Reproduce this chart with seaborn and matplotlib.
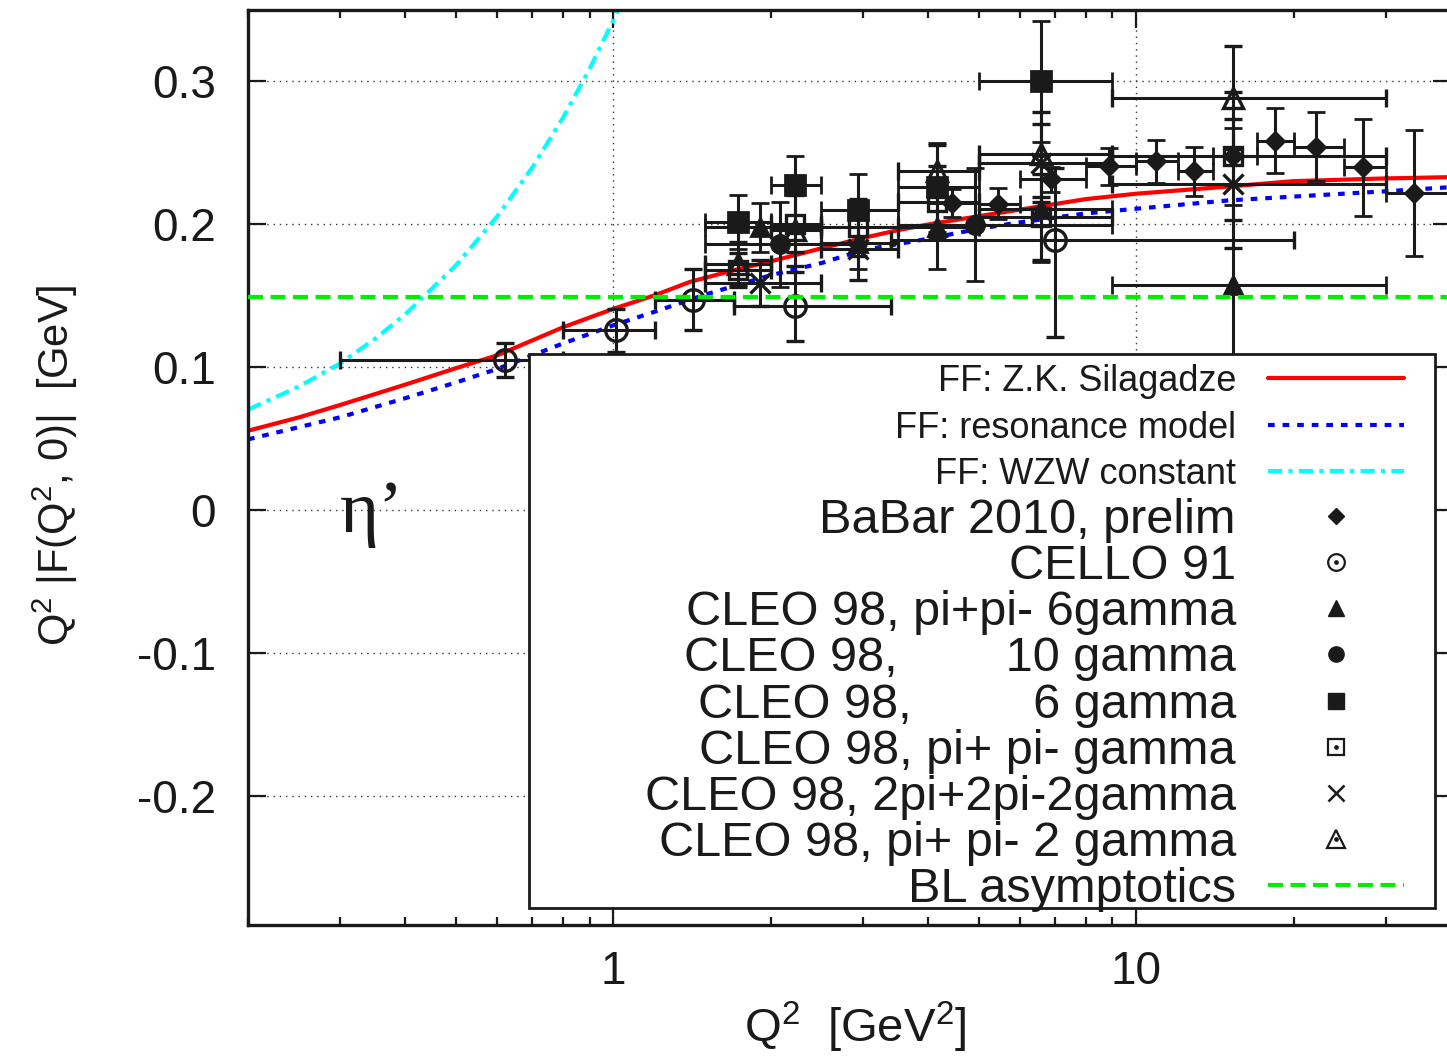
import numpy as np
import pandas as pd
import matplotlib
matplotlib.use("Agg")
import matplotlib.pyplot as plt
import seaborn as sns
from matplotlib.lines import Line2D
from matplotlib.patches import Rectangle
from matplotlib import ticker

# ---------------- curves ----------------
silag_x = [0.2, 0.25, 0.3, 0.4, 0.5, 0.6, 0.8, 1.0, 1.2, 1.4, 1.7, 2.0, 2.5, 3.0, 3.5, 4.0,
           5.0, 6.0, 8.0, 10, 15, 20, 30, 40]
silag_y = [0.0557, 0.065, 0.0737, 0.088, 0.0995, 0.1085, 0.128, 0.141, 0.1505, 0.1598, 0.168,
           0.1742, 0.1833, 0.1905, 0.196, 0.200, 0.2058, 0.2104, 0.2177, 0.2215, 0.2265, 0.2303,
           0.2322, 0.2331]

reson_x = [0.2, 0.3, 0.4, 0.5, 0.6, 0.8, 1.0, 1.2, 1.5, 2.0, 2.5, 3.0, 4.0, 5.0, 6.0, 8.0,
           10, 15, 20, 30, 40]
reson_y = [0.0497, 0.0651, 0.0785, 0.0895, 0.099, 0.1167, 0.1295, 0.139, 0.151, 0.1645, 0.173,
           0.182, 0.190, 0.197, 0.2015, 0.2077, 0.211, 0.2168, 0.2195, 0.2232, 0.2261]

wzw_x = [0.2, 0.25, 0.3, 0.35, 0.4, 0.5, 0.6, 0.7, 0.8, 0.9, 1.0, 1.05]
wzw_y = [0.0705, 0.0865, 0.1028, 0.12, 0.1372, 0.1715, 0.2058, 0.24, 0.2744, 0.3087, 0.343, 0.36]

bl_x = [0.2, 40]
bl_y = [0.149, 0.149]

# ---------------- data sets ----------------
# BaBar 2010, prelim (filled diamonds)
babar_x = [4.45, 5.44, 6.86, 8.87, 10.9, 12.9, 15.3, 18.4, 22.1, 27.2, 34.0]
babar_y = [0.215, 0.2145, 0.2315, 0.2408, 0.2443, 0.2371, 0.2478, 0.2587, 0.2545, 0.2401, 0.2219]
babar_err = [0.010, 0.011, 0.009, 0.013, 0.015, 0.017, 0.020, 0.023, 0.024, 0.034, 0.044]
babar_xlo = [4, 5, 6, 8, 10, 12, 14, 17, 20, 25, 30]
babar_xhi = [5, 6, 8, 10, 12, 14, 17, 20, 25, 30, 40]

# CELLO 91 (open circles)
cello_x = [0.62, 1.01, 1.42, 2.22, 6.99]
cello_y = [0.105, 0.126, 0.1475, 0.1428, 0.1894]
cello_elo = [0.012, 0.015, 0.021, 0.024, 0.068]
cello_ehi = [0.012, 0.015, 0.021, 0.024, 0.050]
cello_xlo = [0.3, 0.8, 1.2, 1.7, 3.4]
cello_xhi = [0.8, 1.2, 1.7, 3.4, 20]

# CLEO 98, pi+pi- 6gamma (filled triangles)
c6pi_x = [1.91, 2.93, 4.15, 6.56, 15.3]
c6pi_y = [0.198, 0.187, 0.198, 0.211, 0.1575]
c6pi_err = [0.017, 0.018, 0.029, 0.037, 0.056]
c6pi_xlo = [1.5, 2.5, 3.5, 5, 9]
c6pi_xhi = [2.5, 3.5, 5, 9, 30]

# CLEO 98, 10 gamma (filled circles)
c10_x = [2.08, 4.91]
c10_y = [0.186, 0.1998]
c10_err = [0.0295, 0.0395]
c10_xlo = [1.5, 3.5]
c10_xhi = [3.0, 9.0]

# CLEO 98, 6 gamma (filled squares)
c6g_x = [1.73, 2.22, 2.93, 4.15, 6.56]
c6g_y = [0.2017, 0.2273, 0.2103, 0.226, 0.300]
c6g_err = [0.019, 0.0205, 0.025, 0.031, 0.042]
c6g_xlo = [1.5, 2.0, 2.5, 3.5, 5.0]
c6g_xhi = [2.0, 2.5, 3.5, 5.0, 9.0]

# CLEO 98, pi+ pi- gamma (open squares)
cppg_x = [1.73, 2.22, 2.93, 4.15, 6.56, 15.3]
cppg_y = [0.168, 0.2006, 0.198, 0.2157, 0.205, 0.2478]
cppg_err = [0.012, 0.020, 0.020, 0.025, 0.030, 0.045]
cppg_xlo = [1.5, 2.0, 2.5, 3.5, 5, 9]
cppg_xhi = [2.0, 2.5, 3.5, 5, 9, 30]

# CLEO 98, 2pi+2pi-2gamma (crosses)
c4pi_x = [1.91, 2.93, 6.56, 15.3]
c4pi_y = [0.159, 0.183, 0.243, 0.2285]
c4pi_err = [0.016, 0.022, 0.027, 0.045]
c4pi_xlo = [1.5, 2.5, 5, 9]
c4pi_xhi = [2.5, 3.5, 9, 30]

# CLEO 98, pi+ pi- 2 gamma (open triangles)
cpp2g_x = [1.73, 2.22, 4.15, 6.56, 15.3]
cpp2g_y = [0.1726, 0.196, 0.2375, 0.249, 0.2885]
cpp2g_err = [0.015, 0.025, 0.018, 0.030, 0.036]
cpp2g_xlo = [1.5, 2.0, 3.5, 5, 9]
cpp2g_xhi = [2.0, 2.5, 5, 9, 30]

curve_labels = [
    "FF: Z.K. Silagadze",
    "FF: resonance model",
    "FF: WZW constant",
]
data_labels = [
    "BaBar 2010, prelim",
    "CELLO 91",
    "CLEO 98, pi+pi- 6gamma",
    "CLEO 98,        10 gamma",
    "CLEO 98,         6 gamma",
    "CLEO 98, pi+ pi- gamma",
    "CLEO 98, 2pi+2pi-2gamma",
    "CLEO 98, pi+ pi- 2 gamma",
    "BL asymptotics",
]
yticks = [-0.2, -0.1, 0.0, 0.1, 0.2, 0.3]
ytick_labels = ["-0.2", "-0.1", "0", "0.1", "0.2", "0.3"]
xticks = [1, 10]
xtick_labels = ["1", "10"]

# ---------------- style ----------------
sns.set_theme(style="ticks")
FONT = "Liberation Sans"
plt.rcParams["font.family"] = [FONT, "DejaVu Sans"]
plt.rcParams["mathtext.fontset"] = "custom"
plt.rcParams["mathtext.rm"] = FONT
plt.rcParams["mathtext.it"] = FONT + ":italic"
plt.rcParams["mathtext.bf"] = FONT + ":bold"
plt.rcParams["axes.unicode_minus"] = False

W, H = 1447, 1057
fig = plt.figure(figsize=(W / 100, H / 100), dpi=100)
L, R, T, B = 248, 1451, 10, 925
ax = fig.add_axes([L / W, 1 - B / H, (R - L) / W, (B - T) / H])
ax.set_xscale("log")
ax.set_xlim(0.2, 40)
ax.set_ylim(-0.29, 0.35)

# grid
ax.set_axisbelow(True)
ax.grid(True, which="major", color="0.2", lw=1.0, ls=(0, (1, 3.5)))

# curves
LW = 3.0
DOT = (0, (1.6, 1.9))
DASHDOT = (0, (3.4, 1.5, 1.0, 1.5))
DASH = (0, (3.6, 1.8))
sns.lineplot(x=silag_x, y=silag_y, ax=ax, color="#ff0000", lw=LW, zorder=2)
sns.lineplot(x=reson_x, y=reson_y, ax=ax, color="#0000ff", lw=LW, zorder=2, linestyle=DOT)
sns.lineplot(x=wzw_x, y=wzw_y, ax=ax, color="#00ffff", lw=LW, zorder=2, linestyle=DASHDOT)

# data sets
def eb(x, y, elo, ehi, xlo, xhi, marker, ms, filled=True, mew=2.0):
    x = np.asarray(x, float)
    y = np.asarray(y, float)
    xerr = [x - np.asarray(xlo, float), np.asarray(xhi, float) - x]
    ax.errorbar(x, y, yerr=[elo, ehi], xerr=xerr, fmt=marker, ms=ms,
                mfc="k" if filled else "none", mec="k", mew=mew,
                ecolor="k", elinewidth=2.2, capsize=6.5, capthick=2.2, zorder=3)

eb(babar_x, babar_y, babar_err, babar_err, babar_xlo, babar_xhi, "D", 9.5)
eb(cello_x, cello_y, cello_elo, cello_ehi, cello_xlo, cello_xhi, "o", 15.5, filled=False, mew=2.4)
eb(c6pi_x, c6pi_y, c6pi_err, c6pi_err, c6pi_xlo, c6pi_xhi, "^", 13)
eb(c10_x, c10_y, c10_err, c10_err, c10_xlo, c10_xhi, "o", 13)
eb(c6g_x, c6g_y, c6g_err, c6g_err, c6g_xlo, c6g_xhi, "s", 14)
eb(cppg_x, cppg_y, cppg_err, cppg_err, cppg_xlo, cppg_xhi, "s", 13.5, filled=False, mew=2.4)
eb(c4pi_x, c4pi_y, c4pi_err, c4pi_err, c4pi_xlo, c4pi_xhi, "x", 14, mew=2.4)
eb(cpp2g_x, cpp2g_y, cpp2g_err, cpp2g_err, cpp2g_xlo, cpp2g_xhi, "^", 14, filled=False, mew=2.4)

sns.lineplot(x=bl_x, y=bl_y, ax=ax, color="#00ee00", lw=LW, zorder=3.5, linestyle=DASH)

# axes styling
for s in ax.spines.values():
    s.set_linewidth(2.4)
    s.set_color("k")
ax.xaxis.set_major_locator(ticker.FixedLocator(xticks))
ax.xaxis.set_major_formatter(ticker.FixedFormatter(xtick_labels))
ax.xaxis.set_minor_locator(ticker.LogLocator(base=10, subs=np.arange(2, 10), numticks=20))
ax.xaxis.set_minor_formatter(ticker.NullFormatter())
ax.yaxis.set_major_locator(ticker.FixedLocator(yticks))
ax.yaxis.set_major_formatter(ticker.FixedFormatter(ytick_labels))
ax.tick_params(which="both", direction="in", top=True, right=True, width=1.6, colors="k")
ax.tick_params(which="major", length=13, labelsize=33)
ax.tick_params(which="minor", length=6)
ax.tick_params(axis="x", which="major", pad=18)
ax.tick_params(axis="y", which="major", pad=23)

ax.set_xlabel(r"Q$\mathregular{^2}$  [GeV$\mathregular{^2}$]", fontsize=34, color="k")
ax.set_ylabel(r"Q$\mathregular{^2}$ |F(Q$\mathregular{^2}$, 0)|  [GeV]", fontsize=30, color="k")
ax.xaxis.set_label_coords(0.5046, -0.082)
ax.yaxis.set_label_coords(-0.14, 0.503)

ax.text(0.0765, 0.43, "\u03b7\u2019", transform=ax.transAxes, fontsize=54,
        family=["Liberation Serif", "DejaVu Serif"], ha="left", va="baseline", color="k")

# legend frame
ax.add_patch(Rectangle((0.2336, 0.0186), 0.9867 - 0.2336, 0.624 - 0.0186,
                       transform=ax.transAxes, facecolor="white", edgecolor="k",
                       lw=2.0, zorder=4.5))

def dot_handle(marker, ms):
    return (Line2D([], [], ls="none", marker=marker, ms=ms, mfc="none", mec="k", mew=1.6),
            Line2D([], [], ls="none", marker="o", ms=2.4, color="k"))

curve_handles = [
    Line2D([], [], color="#ff0000", lw=LW),
    Line2D([], [], color="#0000ff", lw=LW, ls=DOT),
    Line2D([], [], color="#00ffff", lw=LW, ls=DASHDOT),
]
data_handles = [
    Line2D([], [], ls="none", marker="D", ms=8.5, color="k"),
    dot_handle("o", 12),
    Line2D([], [], ls="none", marker="^", ms=11, color="k"),
    Line2D([], [], ls="none", marker="o", ms=11, color="k"),
    Line2D([], [], ls="none", marker="s", ms=11, color="k"),
    dot_handle("s", 11),
    Line2D([], [], ls="none", marker="x", ms=12, color="k", mew=1.8),
    dot_handle("^", 13),
    Line2D([], [], color="#00ee00", lw=LW, ls=DASH),
]

leg1 = ax.legend(curve_handles, curve_labels, loc="upper right", bbox_to_anchor=(0.961, 0.6131),
                 frameon=False, fontsize=26, markerfirst=False, numpoints=1,
                 handlelength=3.77, handletextpad=0.886, borderpad=0, borderaxespad=0,
                 labelspacing=0.32, labelcolor="k")
leg1.set_zorder(5)
ax.add_artist(leg1)

leg2 = ax.legend(data_handles, data_labels, loc="upper right", bbox_to_anchor=(0.961, 0.4667),
                 frameon=False, fontsize=35, markerfirst=False, numpoints=1,
                 handlelength=2.8, handletextpad=0.66, borderpad=0, borderaxespad=0,
                 labelspacing=0.024, labelcolor="k")
leg2.set_zorder(5)

fig.savefig("out.png", dpi=100)
